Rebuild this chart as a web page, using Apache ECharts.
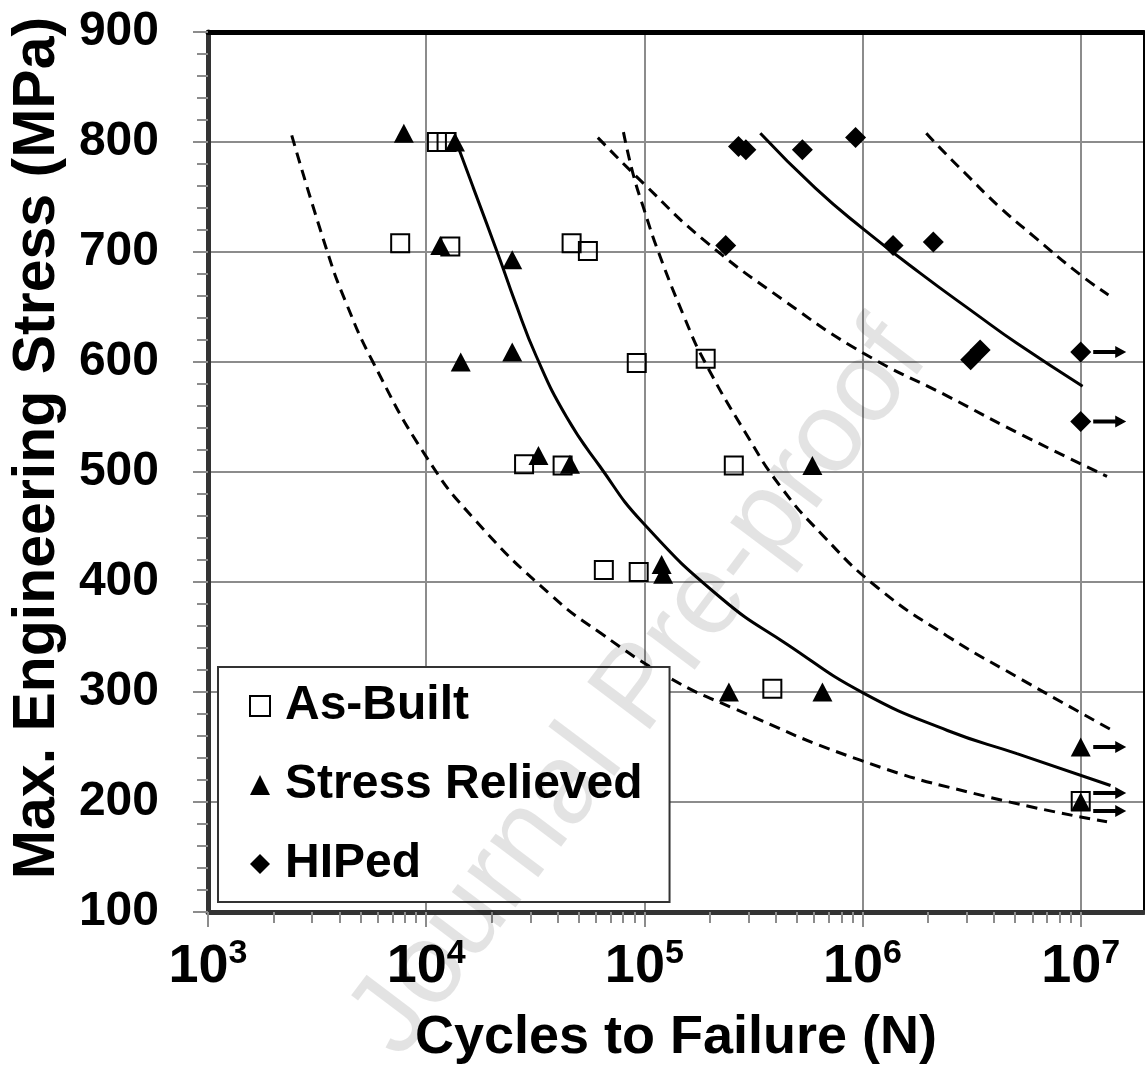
<!DOCTYPE html>
<html>
<head>
<meta charset="utf-8">
<title>Cycles to Failure</title>
<script src="https://cdn.jsdelivr.net/npm/echarts@6.0.0/dist/echarts.min.js"></script>
<style>
  html, body { margin: 0; padding: 0; background: #fff; }
  #chart { width: 1145px; height: 1066px; }
</style>
</head>
<body>
<div id="chart"></div>
<script>
// test points: [cycles to failure, max stress (MPa)]
const asBuilt = [
  [11200, 800], [12400, 800], [7600, 708], [12900, 705], [46400, 708], [55100, 701],
  [92300, 599], [191000, 603], [28100, 507], [42200, 506], [257000, 506],
  [65200, 411], [94200, 409], [386000, 303]
];
const asBuiltRunout = [[1e7, 201]];

const stressRelieved = [
  [7900, 808], [13550, 800], [11600, 706], [24800, 693], [24800, 609], [14400, 600],
  [32700, 515], [45600, 507], [589000, 506], [120000, 416], [122000, 407],
  [244000, 300], [655000, 300]
];
const stressRelievedRunout = [[1e7, 250], [1e7, 200]];

const hiped = [
  [270000, 796], [292000, 793], [530000, 793], [929000, 804], [236000, 706],
  [1.38e6, 706], [2.11e6, 709], [3.13e6, 602], [3.46e6, 611]
];
const hipedRunout = [[1e7, 609], [1e7, 546]];

// fitted curves
const abLower = [
  [2420, 806], [3500, 702], [4250, 656], [5700, 600], [10000, 514], [17000, 455],
  [36900, 389], [62500, 354], [130000, 313], [251000, 286], [977000, 238],
  [3.52e6, 206], [1.32e7, 182]
];
const abMean = [
  [13800, 799], [16400, 759], [21800, 693], [25400, 656], [32000, 605], [44000, 550],
  [62600, 505], [97300, 455], [226000, 385], [454000, 343], [1.01e6, 299],
  [2.45e6, 265], [5.1e6, 244], [1.37e7, 215]
];
const abUpper = [
  [80200, 809], [88500, 772], [98800, 741], [116500, 699], [153000, 640], [187000, 602],
  [292000, 535], [420000, 487], [653000, 443], [1.17e6, 395], [2.44e6, 351],
  [5.08e6, 314], [1.37e7, 266]
];
const hipLower = [
  [61200, 804], [100700, 761], [187000, 711], [436000, 656], [1.01e6, 608],
  [2.45e6, 569], [5.1e6, 536], [1.32e7, 496]
];
const hipMean = [
  [340000, 808], [608000, 758], [993000, 722], [1.83e6, 681], [3.29e6, 644],
  [5.1e6, 617], [1.02e7, 578]
];
const hipUpper = [
  [1.96e6, 808], [2.23e6, 796], [2.94e6, 772], [4.24e6, 741], [6.11e6, 714],
  [1.0e7, 679], [1.34e7, 661]
];

// axis ticks
const xDecades = [1e3, 1e4, 1e5, 1e6, 1e7];
const xMinorSteps = [2, 3, 4, 5, 6, 7, 8, 9];
const xMin = 1e3;
const xMax = 1.95e7;

const FONT = '"Liberation Sans", Arial, Helvetica, sans-serif';
const GRID_GRAY = '#8c8c8c';

const xMinorTicks = [];
xDecades.slice(0, -1).forEach(d => xMinorSteps.forEach(m => xMinorTicks.push(d * m)));

// run-out arrows: points sharing a stress level get stacked above/below
const runouts = [].concat(asBuiltRunout, stressRelievedRunout, hipedRunout);
const arrowData = runouts.map(p => {
  const twins = runouts.filter(q => Math.abs(q[1] - p[1]) < 5);
  let dy = 0;
  if (twins.length > 1) {
    dy = twins.indexOf(p) === 0 ? -8 : 9;
  }
  return { value: p, symbolOffset: [29, dy] };
});

const dashed = [11, 7];
function curve(name, data, type) {
  return {
    name: name,
    type: 'line',
    data: data,
    symbol: 'none',
    smooth: 0.5,
    silent: true,
    z: 2,
    lineStyle: { color: '#000', width: 3, type: type }
  };
}

const chart = echarts.init(document.getElementById('chart'));

const option = {
  animation: false,
  backgroundColor: '#fff',
  textStyle: { fontFamily: FONT },
  grid: { left: 208, right: 1, top: 32, bottom: 154 },
  legend: {
    data: ['As-Built', 'Stress Relieved', 'HIPed'],
    orient: 'vertical',
    left: 218,
    top: 667,
    padding: [14, 27, 13, 31],
    itemGap: 29,
    itemWidth: 20,
    itemHeight: 20,
    selectedMode: false,
    backgroundColor: '#fff',
    borderColor: '#333',
    borderWidth: 2,
    textStyle: {
      fontSize: 48, fontWeight: 'bold', color: '#000', fontFamily: FONT,
      lineHeight: 50, padding: [0, 0, 0, 10]
    }
  },
  xAxis: [
    {
      type: 'log',
      logBase: 10,
      min: xMin,
      max: xMax,
      position: 'bottom',
      axisLine: { show: true, onZero: false, lineStyle: { color: '#333', width: 5 } },
      axisTick: { show: true, length: 15, customValues: xDecades, lineStyle: { color: GRID_GRAY, width: 2 } },
      axisLabel: {
        customValues: xDecades,
        margin: 25,
        formatter: v => '{b|10}{s|' + Math.round(Math.log10(v)) + '}',
        rich: {
          b: { fontSize: 54, fontWeight: 'bold', color: '#000', fontFamily: FONT, lineHeight: 60 },
          s: { fontSize: 34, fontWeight: 'bold', color: '#000', fontFamily: FONT, lineHeight: 48, verticalAlign: 'top' }
        }
      },
      splitLine: { show: true, lineStyle: { color: GRID_GRAY, width: 2 } }
    },
    {
      // minor ticks between decades
      type: 'log',
      logBase: 10,
      min: xMin,
      max: xMax,
      position: 'bottom',
      axisLine: { show: false },
      axisTick: { show: true, length: 11, customValues: xMinorTicks, lineStyle: { color: GRID_GRAY, width: 2 } },
      axisLabel: { show: false },
      splitLine: { show: false }
    },
    {
      // heavy top frame
      type: 'log',
      logBase: 10,
      min: xMin,
      max: xMax,
      position: 'top',
      axisLine: { show: true, lineStyle: { color: '#000', width: 5 } },
      axisTick: { show: false },
      axisLabel: { show: false },
      splitLine: { show: false }
    }
  ],
  yAxis: [
    {
      type: 'value',
      min: 100,
      max: 900,
      interval: 100,
      position: 'left',
      axisLine: { show: true, onZero: false, lineStyle: { color: '#333', width: 5 } },
      axisTick: { show: true, length: 15, lineStyle: { color: GRID_GRAY, width: 2 } },
      minorTick: { show: true, splitNumber: 5, length: 11, lineStyle: { color: GRID_GRAY, width: 2 } },
      axisLabel: { fontSize: 48, fontWeight: 'bold', color: '#000', fontFamily: FONT, margin: 49 },
      splitLine: { show: true, lineStyle: { color: GRID_GRAY, width: 2 } }
    },
    {
      type: 'value',
      min: 100,
      max: 900,
      position: 'right',
      axisLine: { show: true, onZero: false, lineStyle: { color: '#000', width: 2 } },
      axisTick: { show: false },
      axisLabel: { show: false },
      splitLine: { show: false }
    }
  ],
  graphic: [
    {
      type: 'text',
      x: 38,
      y: 448,
      rotation: Math.PI / 2,
      style: {
        text: 'Max. Engineering Stress (MPa)',
        fontSize: 59, fontWeight: 'bold', fontFamily: FONT, fill: '#000',
        align: 'center', verticalAlign: 'middle'
      }
    },
    {
      type: 'text',
      x: 676,
      y: 1038,
      style: {
        text: 'Cycles to Failure (N)',
        fontSize: 54, fontWeight: 'bold', fontFamily: FONT, fill: '#000',
        align: 'center', verticalAlign: 'middle'
      }
    },
    {
      type: 'text',
      x: 640,
      y: 690,
      z: 100,
      silent: true,
      rotation: 53 * Math.PI / 180,
      style: {
        text: 'Journal Pre-proof',
        fontSize: 114, fontFamily: FONT, fill: 'rgba(0,0,0,0.11)',
        align: 'center', verticalAlign: 'middle'
      }
    }
  ],
  series: [
    curve('as-built/SR lower', abLower, dashed),
    curve('as-built/SR mean', abMean, 'solid'),
    curve('as-built/SR upper', abUpper, dashed),
    curve('HIPed lower', hipLower, dashed),
    curve('HIPed mean', hipMean, 'solid'),
    curve('HIPed upper', hipUpper, dashed),
    {
      name: 'As-Built',
      type: 'scatter',
      data: asBuilt.concat(asBuiltRunout),
      symbol: 'rect',
      symbolSize: 18,
      z: 3,
      itemStyle: { color: 'rgba(0,0,0,0)', borderColor: '#000', borderWidth: 2, opacity: 1 }
    },
    {
      name: 'Stress Relieved',
      type: 'scatter',
      data: stressRelieved.concat(stressRelievedRunout),
      symbol: 'triangle',
      symbolSize: [20, 19],
      z: 4,
      itemStyle: { color: '#000', opacity: 1 }
    },
    {
      name: 'HIPed',
      type: 'scatter',
      data: hiped.concat(hipedRunout),
      symbol: 'diamond',
      symbolSize: 21,
      z: 4,
      itemStyle: { color: '#000', opacity: 1 }
    },
    {
      name: 'run-out',
      type: 'scatter',
      data: arrowData,
      symbol: 'path://M0,4 L22,4 L22,0 L33,6 L22,12 L22,8 L0,8 Z',
      symbolSize: [33, 12],
      silent: true,
      z: 4,
      itemStyle: { color: '#000', opacity: 1 }
    }
  ]
};

chart.setOption(option);
window.addEventListener('resize', () => chart.resize());
</script>
</body>
</html>
